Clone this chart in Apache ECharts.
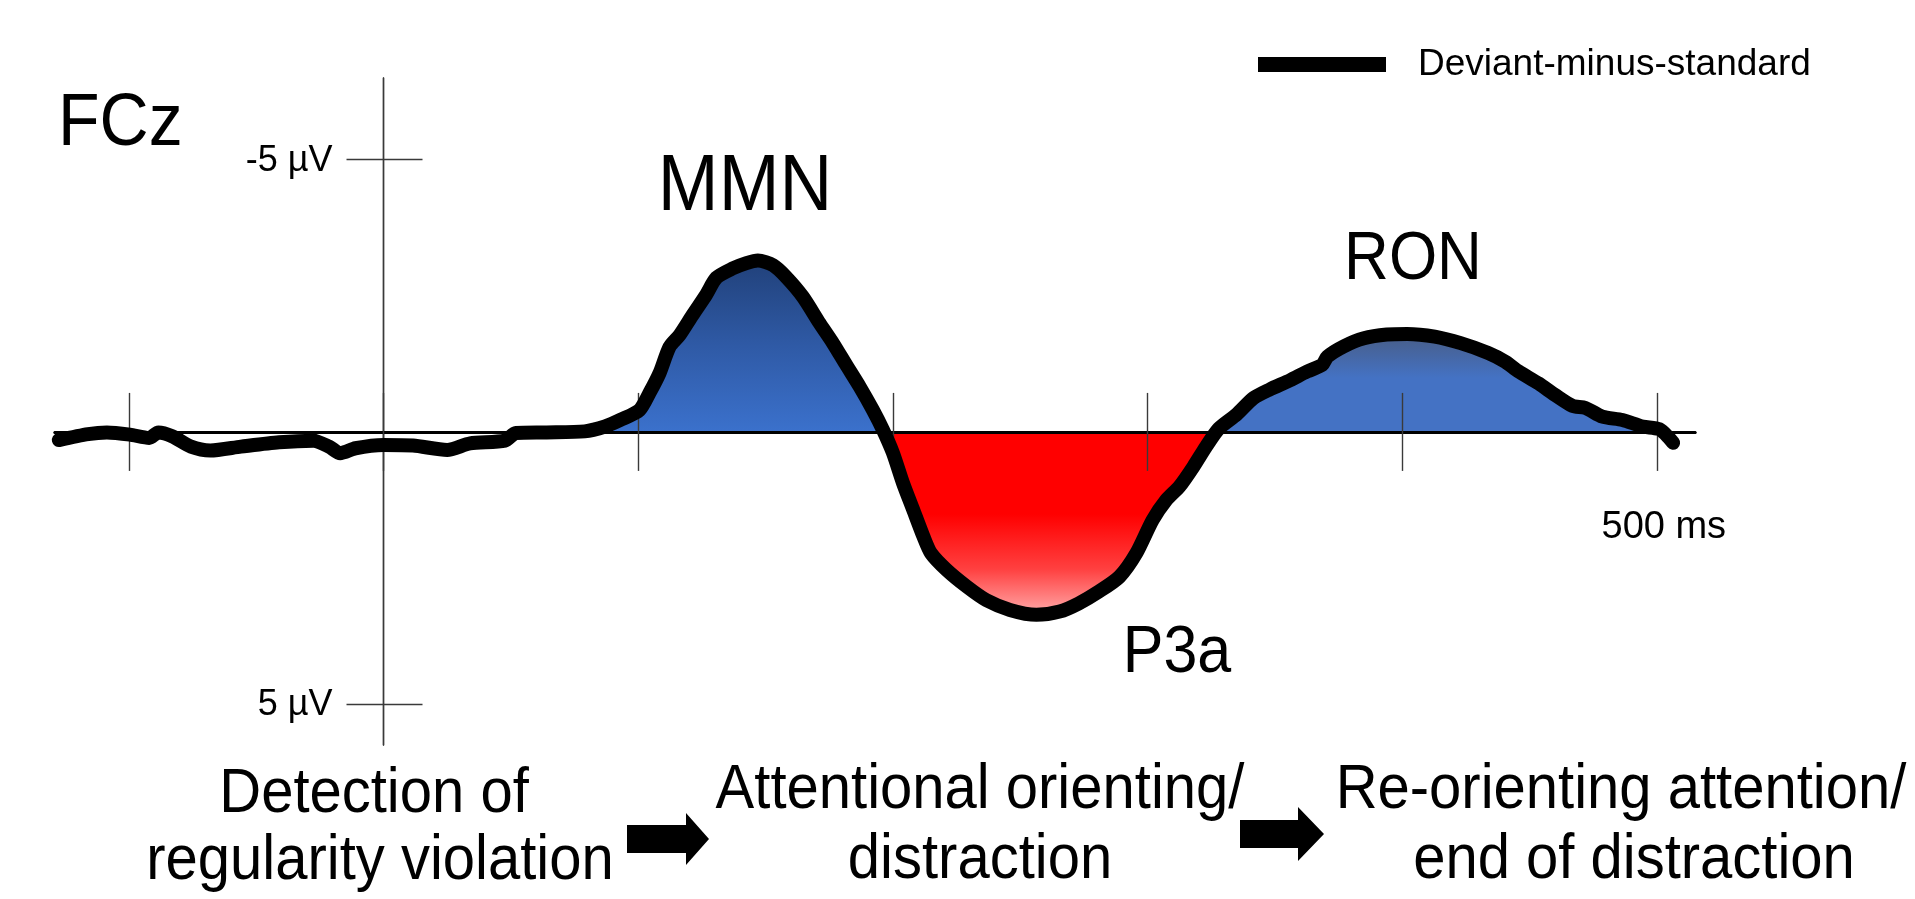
<!DOCTYPE html>
<html>
<head>
<meta charset="utf-8">
<title>FCz deviant-minus-standard</title>
<script src="https://cdn.jsdelivr.net/npm/echarts@6/dist/echarts.min.js"></script>
<style>
  html, body { margin: 0; padding: 0; background: #ffffff; }
  #chart { width: 1915px; height: 899px; }
</style>
</head>
<body>
<div id="chart"></div>
<script>
// Difference wave at FCz (deviant minus standard), negative plotted upwards.
const timeMs = [
  -127.5, -116, -108.6, -99.6, -92, -88.4, -83, -75.6, -68, -56,
  -41, -27.5, -21.4, -17, -11, 0, 11.6, 25, 34, 47.7,
  52, 64, 79, 87, 93, 100.5, 104.5, 108.4, 112.3, 116.3,
  121.4, 126.7, 130.7, 137, 142.5, 147, 153, 158, 164.7, 171.2,
  176.5, 181.7, 187, 192.2, 196.1, 200, 204, 208, 212, 215,
  221, 229, 236.7, 246, 256.4, 265.5, 273, 281, 289, 295.6,
  302, 307.4, 312.6, 318, 323, 328, 335, 341.6, 348, 356,
  362.7, 368.6, 370.6, 377, 385, 394, 402, 412.8, 423, 433.8,
  440.5, 445.7, 453.6, 460, 466.8, 472, 478.6, 486.5, 494.4, 501,
  505, 506.4
];
const amplitudeUv = [
  0.15, 0.04, 0.01, 0.05, 0.11, 0.01, 0.08, 0.27, 0.34, 0.27,
  0.19, 0.16, 0.27, 0.39, 0.30, 0.24, 0.25, 0.33, 0.21, 0.16,
  0.02, 0.01, -0.01, -0.10, -0.22, -0.40, -0.72, -1.08, -1.56, -1.78,
  -2.15, -2.52, -2.83, -3.00, -3.10, -3.15, -3.06, -2.85, -2.48, -2.00,
  -1.63, -1.23, -0.83, -0.40, -0.04, 0.38, 0.94, 1.43, 1.92, 2.23,
  2.53, 2.84, 3.09, 3.27, 3.36, 3.30, 3.15, 2.93, 2.66, 2.23,
  1.62, 1.25, 1.00, 0.64, 0.27, -0.06, -0.32, -0.62, -0.78, -0.95,
  -1.11, -1.23, -1.38, -1.57, -1.72, -1.79, -1.80, -1.75, -1.63, -1.45,
  -1.29, -1.11, -0.89, -0.68, -0.48, -0.44, -0.28, -0.22, -0.10, -0.05,
  0.12, 0.20
];

// Axis ticks and labels
const xTicksMs = [-100, 0, 100, 200, 300, 400, 500];
const xLabelMs = [500];
const yTicksUv = [-5, 5];

// ERP components: name, polarity and time window (ms)
const componentNames = ['MMN', 'P3a', 'RON'];
const componentSigns = [-1, 1, -1];
const componentWindows = [[80, 200], [190, 335], [320, 515]];

// Stage descriptions under the waveform
const stageLines = [
  ['Detection of', 'regularity violation'],
  ['Attentional orienting/', 'distraction'],
  ['Re-orienting attention/', 'end of distraction']
];

const seriesName = 'Deviant-minus-standard';
const FONT = '"Liberation Sans", Arial, Helvetica, sans-serif';
const X_MIN = -129, X_MAX = 515;
const Y_MIN = -6.5, Y_MAX = 5.75;

const curve = timeMs.map((t, i) => [t, amplitudeUv[i]]);

// Part of the curve with one polarity inside a window, zero elsewhere,
// with the zero crossings inserted so the fill meets the baseline cleanly.
function signedPart(sign, t0, t1) {
  const out = [];
  for (let i = 0; i < timeMs.length; i++) {
    const t = timeMs[i], v = amplitudeUv[i];
    if (i > 0) {
      const tp = timeMs[i - 1], vp = amplitudeUv[i - 1];
      if ((vp < 0) !== (v < 0) && v !== vp) {
        const tc = tp + (t - tp) * (0 - vp) / (v - vp);
        if (tc >= t0 && tc <= t1) out.push([tc, 0]);
      }
    }
    if (t < t0 || t > t1) continue;
    out.push([t, sign * v > 0 ? v : 0]);
  }
  return out;
}

const G = echarts.graphic.LinearGradient;
const fillColors = {
  MMN: new G(0, 0, 0, 1, [
    { offset: 0, color: '#21417a' },
    { offset: 0.5, color: '#2f5aa6' },
    { offset: 1, color: '#3b71cc' }
  ]),
  P3a: new G(0, 0, 0, 1, [
    { offset: 0, color: '#ff0000' },
    { offset: 0.45, color: '#ff0000' },
    { offset: 0.75, color: '#ff4040' },
    { offset: 1, color: '#ffaaaa' }
  ]),
  RON: new G(0, 0, 0, 1, [
    { offset: 0, color: '#485d86' },
    { offset: 0.45, color: '#4472c4' },
    { offset: 1, color: '#4472c4' }
  ])
};

const fillSeries = componentNames.map((name, k) => ({
  name: name + ' area',
  type: 'line',
  xAxisIndex: 0,
  yAxisIndex: 0,
  data: signedPart(componentSigns[k], componentWindows[k][0], componentWindows[k][1]),
  smooth: 0.25,
  showSymbol: false,
  silent: true,
  lineStyle: { width: 0, opacity: 0 },
  areaStyle: { color: fillColors[name], opacity: 1, origin: 0 },
  z: 1
}));

const tickStyle = { color: '#3a3a3a', width: 1.4 };

function xAxisCfg(position) {
  return {
    type: 'value', position: position, min: X_MIN, max: X_MAX, z: 3,
    axisLine: { show: true, onZero: true, lineStyle: { color: '#000', width: 3 } },
    axisTick: { show: true, inside: false, length: 39, customValues: xTicksMs, lineStyle: tickStyle },
    axisLabel: { show: false },
    splitLine: { show: false }
  };
}
function yAxisCfg(position, tickLen) {
  return {
    type: 'value', position: position, inverse: true, min: Y_MIN, max: Y_MAX, z: 3,
    axisLine: { show: true, onZero: true, lineStyle: tickStyle },
    axisTick: { show: true, inside: false, length: tickLen, customValues: yTicksUv, lineStyle: tickStyle },
    axisLabel: { show: false },
    splitLine: { show: false }
  };
}

const option = {
  animation: false,
  backgroundColor: '#ffffff',
  textStyle: { fontFamily: FONT },
  grid: {
    left: 55, right: 220, top: 78, bottom: 154,
    containLabel: false,
    outerBoundsMode: 'none'
  },
  legend: {
    data: [seriesName],
    left: 1258,
    top: 46,
    padding: 0,
    icon: 'rect',
    itemWidth: 128,
    itemHeight: 15,
    selectedMode: false,
    textStyle: { fontSize: 37, color: '#000', fontFamily: FONT, padding: [0, 0, 0, 27] }
  },
  // Both axis pairs cross at the origin; the second of each pair mirrors the ticks
  xAxis: [xAxisCfg('bottom'), xAxisCfg('top')],
  yAxis: [yAxisCfg('left', 37), yAxisCfg('right', 39)],
  series: fillSeries.concat([{
    name: seriesName,
    type: 'line',
    xAxisIndex: 0,
    yAxisIndex: 0,
    data: curve,
    smooth: 0.25,
    showSymbol: false,
    silent: true,
    itemStyle: { color: '#000' },
    lineStyle: { color: '#000', width: 14, cap: 'round', join: 'round' },
    z: 5
  }]),
  graphic: { elements: [] }
};

// Text labels: electrode, component names and stage descriptions
function label(text, x, y, size, align, scaleY) {
  return {
    type: 'text', x: x, y: y, scaleY: scaleY, z: 10, silent: true,
    style: { text: text, fontSize: size, fontFamily: FONT, fill: '#000', align: align, verticalAlign: 'middle' }
  };
}
const els = option.graphic.elements;
els.push(label('FCz', 58, 125, 68, 'left', 1.08));
els.push(label(componentNames[0], 745, 188, 73, 'center', 1.08));
els.push(label(componentNames[1], 1177, 653, 61, 'center', 1.1));
els.push(label(componentNames[2], 1413, 260, 62, 'center', 1.1));

const stageX = [[374, 380], [980, 980], [1621, 1634]];
const stageY = [[795, 862], [791, 861], [791, 861]];
stageLines.forEach((lines, i) => {
  lines.forEach((txt, j) => {
    els.push(label(txt, stageX[i][j], stageY[i][j], 58, 'center', 1.08));
  });
});

// Block arrows between the stages
function arrow(x0, x1, xTip, yMid, shaftHalf, headHalf) {
  return {
    type: 'polygon', z: 10, silent: true,
    shape: { points: [
      [x0, yMid - shaftHalf], [x1, yMid - shaftHalf], [x1, yMid - headHalf],
      [xTip, yMid], [x1, yMid + headHalf], [x1, yMid + shaftHalf], [x0, yMid + shaftHalf]
    ] },
    style: { fill: '#000' }
  };
}
els.push(arrow(627, 686, 709, 839, 14, 26));
els.push(arrow(1240, 1298, 1324, 834, 14, 27));

const chart = echarts.init(document.getElementById('chart'), null, { renderer: 'canvas' });
chart.setOption(option);

// Axis value labels sit next to the ticks at the origin, placed through the axis scales
const originX = chart.convertToPixel({ xAxisIndex: 0 }, 0);
const originY = chart.convertToPixel({ yAxisIndex: 0 }, 0);
yTicksUv.forEach(v => {
  const py = chart.convertToPixel({ yAxisIndex: 0 }, v);
  els.push(label(v + ' µV', originX - 51, py + 1, 36, 'right', 1));
});
xLabelMs.forEach(v => {
  const px = chart.convertToPixel({ xAxisIndex: 0 }, v);
  els.push(label(v + ' ms', px + 7, originY + 96, 38, 'center', 1));
});
chart.setOption(option, true);
</script>
</body>
</html>
